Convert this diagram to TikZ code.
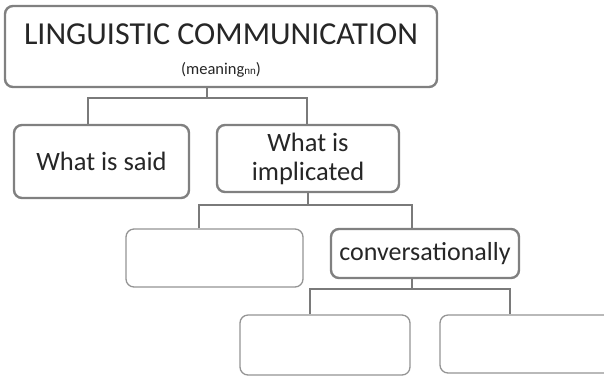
\documentclass[tikz,border=0pt]{standalone}
\usepackage{fontspec}
\setmainfont{Carlito}
\begin{document}
\begin{tikzpicture}[x=1pt,y=-1pt,
  box/.style={draw=black!50, line width=2.4pt, rounded corners=8pt, fill=white,
    align=center, inner sep=0pt, text=black!85},
  blank/.style={draw=black!42, line width=1.3pt, rounded corners=8pt, fill=white, inner sep=0pt},
  conn/.style={draw=black!52, line width=2.6pt}]
\useasboundingbox (0,0) rectangle (604,376);

% boxes
\node[box, minimum width=432pt, minimum height=81pt, font=\fontsize{32}{30}\selectfont] (top) at (221,46.5)
  {\rule{0pt}{28pt}LINGUISTIC COMMUNICATION\\
   {\fontsize{16.5}{18}\selectfont (meaning{\fontsize{11}{12}\selectfont nn})}};
\node[box, minimum width=175pt, minimum height=73pt, font=\fontsize{26.5}{29}\selectfont] (said) at (101.5,161.5)
  {What is said};
\node[box, minimum width=182pt, minimum height=67pt, font=\fontsize{26.5}{29}\selectfont] (impl) at (308,158.5)
  {What is\\implicated};
\node[blank, minimum width=177pt, minimum height=58pt] (conv0) at (214.5,258) {};
\node[box, minimum width=188pt, minimum height=49pt, font=\fontsize{26}{28}\selectfont] (conv) at (425,253.5)
  {conversationally};
\node[blank, minimum width=170pt, minimum height=60pt] (leaf1) at (325,345) {};
\node[blank, minimum width=172pt, minimum height=58pt] (leaf2) at (526,344) {};

% junctions of the tree
\coordinate (j1) at (207,98);
\coordinate (j2) at (308,205);
\coordinate (j3) at (412,289);

% connectors
\draw[conn] (j1 |- top.south) -- (j1);
\draw[conn] ([xshift=-13.5pt]said.north) |- (j1) -| ([xshift=-1pt]impl.north);
\draw[conn] (j2 |- impl.south) -- (j2);
\draw[conn] ([xshift=-15.5pt]conv0.north) |- (j2) -| ([xshift=-13pt]conv.north);
\draw[conn] (j3 |- conv.south) -- (j3);
\draw[conn] ([xshift=-15pt]leaf1.north) |- (j3) -| ([xshift=-16pt]leaf2.north);
\end{tikzpicture}
\end{document}
